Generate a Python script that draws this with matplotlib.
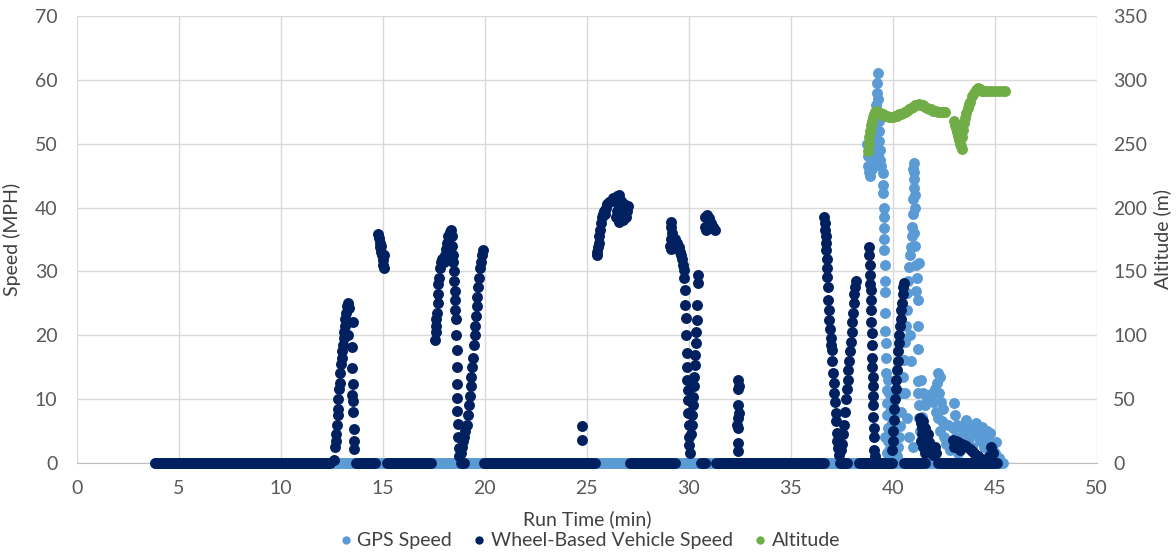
import matplotlib
matplotlib.use("Agg")
import matplotlib.pyplot as plt
from matplotlib.lines import Line2D

plt.rcParams['font.family'] = ['Lato', 'DejaVu Sans']

# run time (min), speed (MPH) -- non-zero readings only
gps_points = [
    (38.75, 50), (38.8, 48), (38.8, 46.5), (38.85, 45.5), (38.9, 45), (38.95, 46.5),
    (39.0, 48), (39.05, 50), (39.1, 52), (39.15, 54), (39.2, 56), (39.22, 58),
    (39.25, 59.5), (39.27, 61), (39.3, 57), (39.3, 55), (39.32, 53.5), (39.35, 52),
    (39.35, 50.5), (39.4, 49), (39.4, 47.5), (39.45, 46.5), (39.5, 45.4), (39.5, 43.5),
    (39.52, 42.3), (39.55, 40), (39.55, 38.5), (39.55, 36.8), (39.57, 35), (39.57, 33.4),
    (39.6, 31), (39.6, 28.5), (39.6, 26.8), (39.62, 23.5), (39.62, 20.6), (39.65, 18.7),
    (39.65, 16.5), (39.65, 14.1), (39.7, 11.4), (39.7, 9.3), (39.72, 7.5), (39.75, 5.5),
    (39.75, 3.5), (39.8, 2), (38.9, 49), (39.0, 46), (39.1, 47.5), (39.2, 50.5),
    (39.3, 48), (39.0, 51), (39.85, 8), (39.9, 6), (40.0, 4), (40.1, 2.5), (39.9, 3),
    (39.7, 1.5), (40.0, 9.4), (39.6, 4), (39.8, 11), (39.95, 7), (40.05, 5.5),
    (40.15, 4), (39.85, 1.2), (40.0, 1.5), (39.75, 13), (40.1, 8),
    # second peak
    (40.2, 1), (40.25, 2.5), (40.3, 4), (40.35, 5.8), (40.4, 8), (40.45, 11),
    (40.5, 13.5), (40.55, 16.1), (40.6, 19), (40.65, 21.5), (40.7, 24), (40.72, 26.6),
    (40.75, 28.5), (40.8, 30.7), (40.85, 32.5), (40.9, 33.8), (40.95, 35.5), (40.95, 37),
    (41.0, 39), (41.0, 41.3), (41.02, 43), (41.05, 44.5), (41.0, 46), (41.02, 47),
    (41.05, 45.5), (41.1, 42), (41.1, 40), (41.05, 36), (41.1, 34), (41.15, 31),
    (41.2, 29), (41.25, 25.5), (41.25, 21.5), (41.22, 17.9), (41.25, 12.8), (41.25, 11),
    (41.3, 9), (41.3, 7), (41.35, 5), (41.4, 3), (41.3, 31.3), (40.6, 11), (40.7, 7),
    (40.85, 20), (40.9, 16), (41.15, 27), (40.8, 4), (41.0, 2.5),
    # low-speed tail
    (41.4, 13), (41.5, 11), (41.45, 7.2), (41.6, 4.7), (42.2, 14), (42.3, 13.5),
    (42.15, 12.5), (42.25, 11), (42.35, 9.5), (42.1, 8), (42.4, 6.5), (42.3, 5),
    (42.5, 4), (42.6, 3), (42.45, 8.5), (43.0, 9.4), (43.05, 7.5), (42.95, 5.5),
    (43.1, 4), (43.6, 6.7), (43.4, 5.5), (43.5, 4.5), (44.1, 6.3), (44.0, 5),
    (44.4, 5.6), (44.6, 5), (44.75, 4.7), (44.8, 3), (44.9, 2), (45.0, 1.5),
    (43.3, 3), (43.8, 4), (44.3, 3.5), (41.9, 10.8), (42.0, 9.5), (42.7, 6),
    (42.8, 2), (43.2, 1.5), (44.5, 2.5), (43.9, 2.5), (45.2, 0.8),
    (41.6, 9), (41.7, 10), (42.05, 11.5), (42.2, 7), (43.15, 6), (43.7, 5.5),
    (44.2, 4.5), (44.6, 3.8), (45.05, 3.2),
]

wheel_points = [
    # ~13 min
    (12.6, 0.5), (12.65, 2.5), (12.68, 3.5), (12.72, 4.5), (12.75, 6), (12.78, 7.5),
    (12.8, 8.5), (12.82, 10), (12.85, 11.5), (12.88, 12.5), (12.9, 14), (12.95, 15.5),
    (12.98, 16.5), (13.0, 17.5), (13.05, 18.5), (13.08, 19.5), (13.1, 20.5), (13.12, 21.5),
    (13.15, 22.5), (13.2, 23.5), (13.25, 24.5), (13.3, 25), (13.35, 24.3), (13.3, 22),
    (13.3, 20), (13.5, 18.2), (13.55, 22), (13.5, 14.9), (13.52, 12.3), (13.5, 10.7),
    (13.55, 9.7), (13.55, 7.9), (13.58, 5.3), (13.6, 3.4), (13.6, 2.1),
    # ~15 min
    (14.75, 35.8), (14.8, 35.2), (14.85, 34.5), (14.85, 33.8), (14.9, 33), (14.95, 32.5),
    (15.0, 31.8), (15.0, 31), (15.05, 30.5), (14.9, 34), (15.05, 32.5),
    # ~18-20 min
    (17.55, 19.3), (17.58, 20.5), (17.6, 21.5), (17.62, 22.5), (17.65, 23.5), (17.68, 25),
    (17.7, 26.5), (17.72, 28), (17.75, 29), (17.8, 30.5), (17.85, 31.5), (17.9, 32),
    (17.95, 32), (18.0, 31.5), (18.05, 32.5), (18.1, 33.5), (18.15, 34.5), (18.2, 35.5),
    (18.3, 36.2), (18.35, 36.5), (18.4, 35.5), (18.4, 34), (18.45, 32.5), (18.45, 31.5),
    (18.5, 30), (18.5, 28.5), (18.52, 27), (18.55, 25.5), (18.55, 24), (18.6, 22.5),
    (18.6, 20), (18.62, 17.7), (18.62, 15), (18.65, 12.3), (18.65, 10.2), (18.65, 8.1),
    (18.7, 6.1), (18.7, 4), (18.72, 2.4), (18.75, 1),
    (18.85, 1.5), (18.9, 2.5), (18.95, 3.5), (19.0, 4), (19.05, 5), (19.1, 6),
    (19.15, 7.5), (19.2, 9), (19.25, 10.5), (19.3, 12), (19.33, 13.5), (19.35, 15),
    (19.4, 16.5), (19.45, 18.5), (19.5, 20), (19.52, 21.5), (19.55, 23), (19.6, 24.5),
    (19.62, 26), (19.65, 27.5), (19.7, 29), (19.75, 30.5), (19.8, 31.5), (19.85, 32.5),
    (19.9, 33.3),
    # ~25-27 min
    (24.75, 5.8), (24.75, 3.6),
    (25.5, 32.5), (25.52, 33), (25.55, 33.8), (25.6, 34.5), (25.62, 35.5), (25.65, 36.5),
    (25.7, 37.5), (25.75, 38.5), (25.8, 39), (25.85, 39.5), (25.9, 39), (25.95, 40),
    (26.0, 40.5), (26.1, 40.8), (26.2, 41), (26.3, 41.5), (26.4, 41.2), (26.5, 41.8),
    (26.6, 42), (26.55, 40.5), (26.5, 39.5), (26.45, 38.5), (26.7, 41), (26.8, 40.5),
    (26.85, 39.5), (26.9, 38.5), (26.95, 39.5), (27.0, 40.2), (26.75, 38), (26.6, 37.8),
    # ~29-31 min
    (29.15, 37.8), (29.15, 37), (29.2, 36), (29.15, 35), (29.1, 34), (29.15, 33.5),
    (29.25, 34.5), (29.3, 35), (29.4, 34.5), (29.5, 33.8), (29.55, 33), (29.6, 32.5),
    (29.65, 32), (29.7, 31), (29.75, 30.2), (29.75, 29), (29.8, 27.1), (29.8, 24.7),
    (29.85, 22.7), (29.85, 20), (29.9, 17.2), (29.9, 15), (29.9, 13), (29.95, 11.4),
    (29.95, 9.9), (29.95, 7.8), (30.0, 6), (30.0, 4.1), (30.0, 2.8), (30.05, 1.5),
    (30.45, 29.4), (30.45, 28.1), (30.4, 24.7), (30.4, 22.4), (30.35, 20.5), (30.35, 18.8),
    (30.3, 16.9), (30.3, 15.3), (30.28, 13.5), (30.25, 12), (30.2, 10.3), (30.2, 9),
    (30.15, 7.5), (30.15, 6), (30.1, 4.5),
    (30.8, 38.5), (30.9, 38.8), (31.0, 38.3), (31.1, 37.5), (31.2, 37), (31.3, 36.5),
    (30.8, 37), (30.85, 36.5), (31.0, 36.8),
    # ~32.5 min
    (32.4, 13), (32.45, 12.1), (32.4, 11.5), (32.42, 9.1), (32.45, 7.8), (32.4, 7),
    (32.38, 6), (32.42, 5.5), (32.4, 3.1), (32.4, 1.9),
    # ~37-39 min
    (36.65, 38.5), (36.68, 37.5), (36.7, 36.5), (36.72, 35.5), (36.75, 34.5), (36.75, 33.4),
    (36.78, 32), (36.8, 30.5), (36.8, 29.1), (36.82, 27.5), (36.85, 25.5), (36.88, 24),
    (36.9, 22.4), (36.92, 21), (36.95, 19.5), (36.98, 18.5), (37.0, 17.7), (37.0, 16),
    (37.05, 14.1), (37.1, 12.5), (37.1, 11), (37.15, 9.5), (37.2, 7.8), (37.22, 6.5),
    (37.25, 4.7), (37.28, 3.5), (37.3, 2.3), (37.35, 1.2),
    (37.45, 2), (37.5, 3), (37.55, 4.5), (37.6, 6), (37.65, 8), (37.7, 10),
    (37.75, 11.5), (37.8, 13), (37.82, 14.5), (37.85, 16), (37.9, 17.5), (37.95, 19),
    (38.0, 20.5), (38.02, 22), (38.05, 23.5), (38.1, 25), (38.12, 26.5), (38.15, 27.5),
    (38.2, 28.5),
    (38.85, 33.8), (38.85, 32.5), (38.88, 31), (38.9, 29.5), (38.9, 28), (38.92, 27.1),
    (38.92, 25.5), (38.95, 24), (38.95, 22), (38.98, 20.4), (39.0, 18.5), (39.0, 16.5),
    (39.0, 15), (39.02, 13.5), (39.02, 12), (39.05, 10.5), (39.05, 9), (39.05, 7.2),
    (39.08, 5.5), (39.1, 4), (39.1, 2), (39.12, 1),
    # ~40-45 min
    (39.95, 2), (40.0, 3.5), (40.02, 5), (40.05, 6.7), (40.08, 8.5), (40.1, 10),
    (40.15, 11.5), (40.18, 13), (40.2, 14.5), (40.25, 16), (40.28, 17.5), (40.3, 18.8),
    (40.33, 20), (40.36, 21.5), (40.4, 22.5), (40.42, 24), (40.45, 25), (40.5, 26.5),
    (40.52, 27.6), (40.55, 28.2),
    (41.35, 7), (41.4, 6.2), (41.45, 5.5), (41.5, 6.5), (41.55, 4.5), (41.6, 5.5),
    (41.65, 4), (41.7, 3.5), (41.75, 4.5), (41.8, 3.2), (41.85, 2.8), (41.9, 2.2),
    (41.95, 1.8), (42.0, 1.2), (41.4, 3.5), (41.5, 2.5), (41.6, 1.5), (41.45, 4.5),
    (42.05, 2.5), (42.1, 1.5),
    (42.95, 3.6), (43.1, 3.4), (43.2, 3.2), (43.4, 3), (43.5, 2.8), (43.6, 2.6),
    (43.8, 2.2), (43.9, 1.8), (44.0, 1.6), (44.2, 1.1), (44.4, 0.6), (43.0, 2.5),
    (43.3, 2), (44.8, 2.5), (44.9, 1.5), (44.7, 1),
]

# stretches logged at 0 MPH (start, end) in minutes
gps_zero = [(3.8, 45.4)]
wheel_zero = [(3.8, 12.4), (13.7, 14.6), (15.2, 17.35), (18.85, 19.0), (19.95, 25.4),
              (27.1, 29.3), (30.6, 30.8), (31.35, 36.65), (37.4, 37.75), (38.35, 39.95),
              (40.55, 41.6), (42.2, 45.1)]

# run time (min), altitude (m)
altitude_points = [
    (38.8, 244), (38.82, 250), (38.85, 255), (38.9, 260), (38.95, 265), (39.0, 268),
    (39.05, 271), (39.1, 273), (39.15, 275), (39.2, 276), (39.3, 275), (39.4, 274),
    (39.5, 273), (39.6, 272), (39.7, 271.5), (39.8, 271), (39.9, 271), (40.0, 271),
    (40.1, 271.5), (40.2, 272), (40.3, 273), (40.4, 273.5), (40.5, 274), (40.6, 275),
    (40.7, 276), (40.8, 277), (40.9, 278), (41.0, 279), (41.1, 280), (41.2, 280.5),
    (41.3, 281), (41.4, 280.5), (41.5, 280), (41.6, 279), (41.7, 278), (41.8, 277.5),
    (41.9, 277), (42.0, 276), (42.1, 275.5), (42.2, 275), (42.3, 275), (42.4, 275),
    (42.5, 274.5), (42.55, 274.5),
    (43.0, 268), (43.05, 265), (43.1, 262), (43.15, 259), (43.2, 256), (43.25, 253),
    (43.3, 250), (43.35, 248), (43.4, 246),
    (43.4, 255), (43.45, 261), (43.5, 266), (43.55, 270), (43.6, 274), (43.7, 278),
    (43.75, 281), (43.8, 283), (43.9, 287), (44.0, 290), (44.1, 292), (44.2, 294),
    (44.3, 293), (44.4, 291), (44.5, 291), (44.6, 291), (44.8, 291), (45.0, 291),
    (45.2, 291), (45.4, 291), (45.5, 291),
]

gps_color = '#5B9BD5'
wheel_color = '#002060'
alt_color = '#70AD47'
text_color = '#595959'

fig = plt.figure(figsize=(11.76, 5.53), dpi=100)
ax = fig.add_axes([0.0655, 0.163, 0.867, 0.808])
dot = 62
dot_lw = dot ** 0.5

for start, end in gps_zero:
    ax.plot([start, end], [0, 0], color=gps_color, lw=dot_lw, solid_capstyle='round',
            clip_on=False, zorder=3)
ax.scatter([p[0] for p in gps_points], [p[1] for p in gps_points], s=dot,
           color=gps_color, linewidths=0, clip_on=False, zorder=3)
for start, end in wheel_zero:
    ax.plot([start, end], [0, 0], color=wheel_color, lw=dot_lw, solid_capstyle='round',
            clip_on=False, zorder=4)
ax.scatter([p[0] for p in wheel_points], [p[1] for p in wheel_points], s=dot,
           color=wheel_color, linewidths=0, clip_on=False, zorder=4)

ax.set_xlim(0, 50)
ax.set_ylim(0, 70)
ax.set_xticks(range(0, 51, 5))
ax.set_yticks(range(0, 71, 10))
ax.grid(True, color='#D9D9D9', lw=1)
ax.set_axisbelow(True)
for side in ['top', 'right', 'left']:
    ax.spines[side].set_visible(False)
ax.spines['bottom'].set_color('#BFBFBF')
ax.tick_params(length=0, labelsize=14, labelcolor=text_color, pad=12)
ax.tick_params(axis='y', pad=14)
ax.set_ylabel('Speed (MPH)', fontsize=14, color='#404040', labelpad=10)
ax.set_xlabel('Run Time (min)', fontsize=14, color='#404040', labelpad=10)

ax2 = ax.twinx()
ax2.scatter([p[0] for p in altitude_points], [p[1] for p in altitude_points], s=dot,
            color=alt_color, linewidths=0, zorder=5)
ax2.set_ylim(0, 350)
ax2.set_yticks(range(0, 351, 50))
for side in ['top', 'right', 'left', 'bottom']:
    ax2.spines[side].set_visible(False)
ax2.tick_params(length=0, labelsize=14, labelcolor=text_color, pad=12)
ax2.set_ylabel('Altitude (m)', fontsize=14, color='#404040', rotation=90, labelpad=4)

handles = [Line2D([], [], ls='', marker='o', ms=6, color=c, mec='none')
           for c in (gps_color, wheel_color, alt_color)]
fig.legend(handles, ['GPS Speed', 'Wheel-Based Vehicle Speed', 'Altitude'],
           loc='lower center', bbox_to_anchor=(0.5, -0.025), ncol=3, frameon=False,
           fontsize=14, labelcolor='#404040', handletextpad=0.1, columnspacing=0.9,
           handlelength=1.0)

fig.savefig('out.png', dpi=100)
